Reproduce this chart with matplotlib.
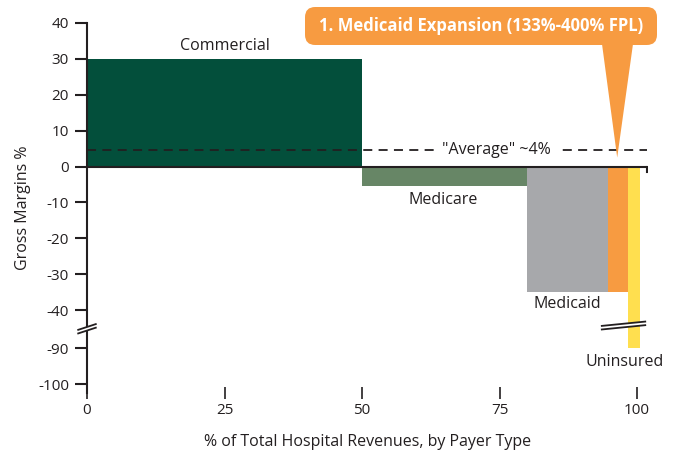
import numpy as np
import matplotlib
matplotlib.use("Agg")
import matplotlib.pyplot as plt
from matplotlib.patches import FancyBboxPatch, Polygon

# payer segments (share of revenue, margin %)
payers = ["Commercial", "Medicare", "Medicaid", "Medicaid Expansion", "Uninsured"]
widths = [50, 30, 14.7, 3.7, 2.1]
margins = [30, -5.5, -35, -35, -89.2]
colors = ["#034f3b", "#678666", "#a7a8ab", "#f79b41", "#ffdf4f"]
average = 4.7

yticks = [40, 30, 20, 10, 0, -10, -20, -30, -40, -90, -100]
xticks = [0, 25, 50, 75, 100]

TXT = "#231f20"
FS = 11.5
plt.rcParams["font.family"] = ["Open Sans", "DejaVu Sans"]

# broken y axis: squeeze -40..-90 into a small gap
ydat = [-200, -90, -40, 100]
ypos = [-160.6, -50.6, -40, 100]
fwd = lambda y: np.interp(y, ydat, ypos)
inv = lambda p: np.interp(p, ypos, ydat)

fig = plt.figure(figsize=(6.79, 4.51), dpi=100)
ax = fig.add_axes([87 / 679, 1 - 393 / 451, 561 / 679, 370 / 451])
ax.set_yscale("function", functions=(fwd, inv))
ax.set_xlim(0, 102)
ax.set_ylim(-102.5, 40)

lefts = np.concatenate([[0], np.cumsum(widths)[:-1]])
ax.bar(lefts, margins, width=widths, align="edge", color=colors, linewidth=0, zorder=2)

# zero line with small end tick
ax.plot([0, 101.8], [0, 0], color=TXT, lw=1.5, zorder=4, solid_capstyle="butt")
ax.plot([101.8, 101.8], [0, -1.4], color=TXT, lw=1.5, zorder=4)

# average line
ax.plot([0, 101.8], [average, average], color=TXT, lw=1.3, ls=(0, (5, 3.5)), zorder=3)
ax.text(74.5, average, '"Average" ~4%', ha="center", va="center", fontsize=FS, color=TXT,
        zorder=5, bbox=dict(facecolor="white", edgecolor="none", pad=5))

# segment labels
ax.text(25.1, 33.5, "Commercial", ha="center", va="center", fontsize=FS, color=TXT)
ax.text(64.7, -9.2, "Medicare", ha="center", va="center", fontsize=FS, color=TXT)
ax.text(87.3, -38.3, "Medicaid", ha="center", va="center", fontsize=FS, color=TXT)
ax.text(97.8, -93.9, "Uninsured", ha="center", va="center", fontsize=FS, color=TXT)

# axes styling
for s in ["top", "right", "bottom"]:
    ax.spines[s].set_visible(False)
ax.spines["left"].set_linewidth(1.5)
ax.spines["left"].set_color(TXT)
ax.set_yticks(yticks)
ax.set_yticklabels([str(t) for t in yticks])
ax.set_xticks(xticks)
ax.tick_params(axis="y", direction="out", length=9, width=1.5, color=TXT,
               labelsize=11, labelcolor=TXT, pad=4)
ax.tick_params(axis="x", direction="inout", length=9, width=1.2, color=TXT,
               labelsize=11, labelcolor=TXT, pad=3)
ax.set_ylabel("Gross Margins %", fontsize=FS, color=TXT, labelpad=5)
ax.set_xlabel("% of Total Hospital Revenues, by Payer Type", fontsize=FS, color=TXT, labelpad=11)

# break marks
def break_mark(x0, x1, ymid_pos, rise=1.6, gap=1.0):
    yl = [inv(ymid_pos - rise / 2 - gap / 2), inv(ymid_pos - rise / 2 + gap / 2)]
    yr = [inv(ymid_pos + rise / 2 - gap / 2), inv(ymid_pos + rise / 2 + gap / 2)]
    poly = Polygon([(x0, yl[0]), (x1, yr[0]), (x1, yr[1]), (x0, yl[1])],
                   closed=True, facecolor="white", edgecolor="none", zorder=6, clip_on=False)
    ax.add_patch(poly)
    for i in range(2):
        ax.plot([x0, x1], [yl[i], yr[i]], color=TXT, lw=1.3, zorder=7, clip_on=False)

break_mark(-1.6, 1.6, -45.2)
break_mark(93.6, 101.5, -44.3, rise=1.2)

# callout box
box = FancyBboxPatch((305 / 679, 1 - 45 / 451), 352 / 679, 38 / 451, transform=fig.transFigure,
                     boxstyle="round,pad=0,rounding_size=0.015", facecolor="#f79b41",
                     edgecolor="none", mutation_aspect=679 / 451)
fig.patches.append(box)
tip = fig.transFigure.inverted().transform(ax.transData.transform((96.4, 2.5)))
tri = Polygon([(602 / 679, 1 - 44 / 451), (633 / 679, 1 - 44 / 451), tuple(tip)],
              closed=True, transform=fig.transFigure, facecolor="#f79b41", edgecolor="none")
fig.patches.append(tri)
fig.text(481 / 679, 1 - 26 / 451, "1. Medicaid Expansion (133%-400% FPL)", ha="center", va="center",
         fontsize=12, fontweight="bold", color="white")

fig.savefig("out.png", dpi=100)
